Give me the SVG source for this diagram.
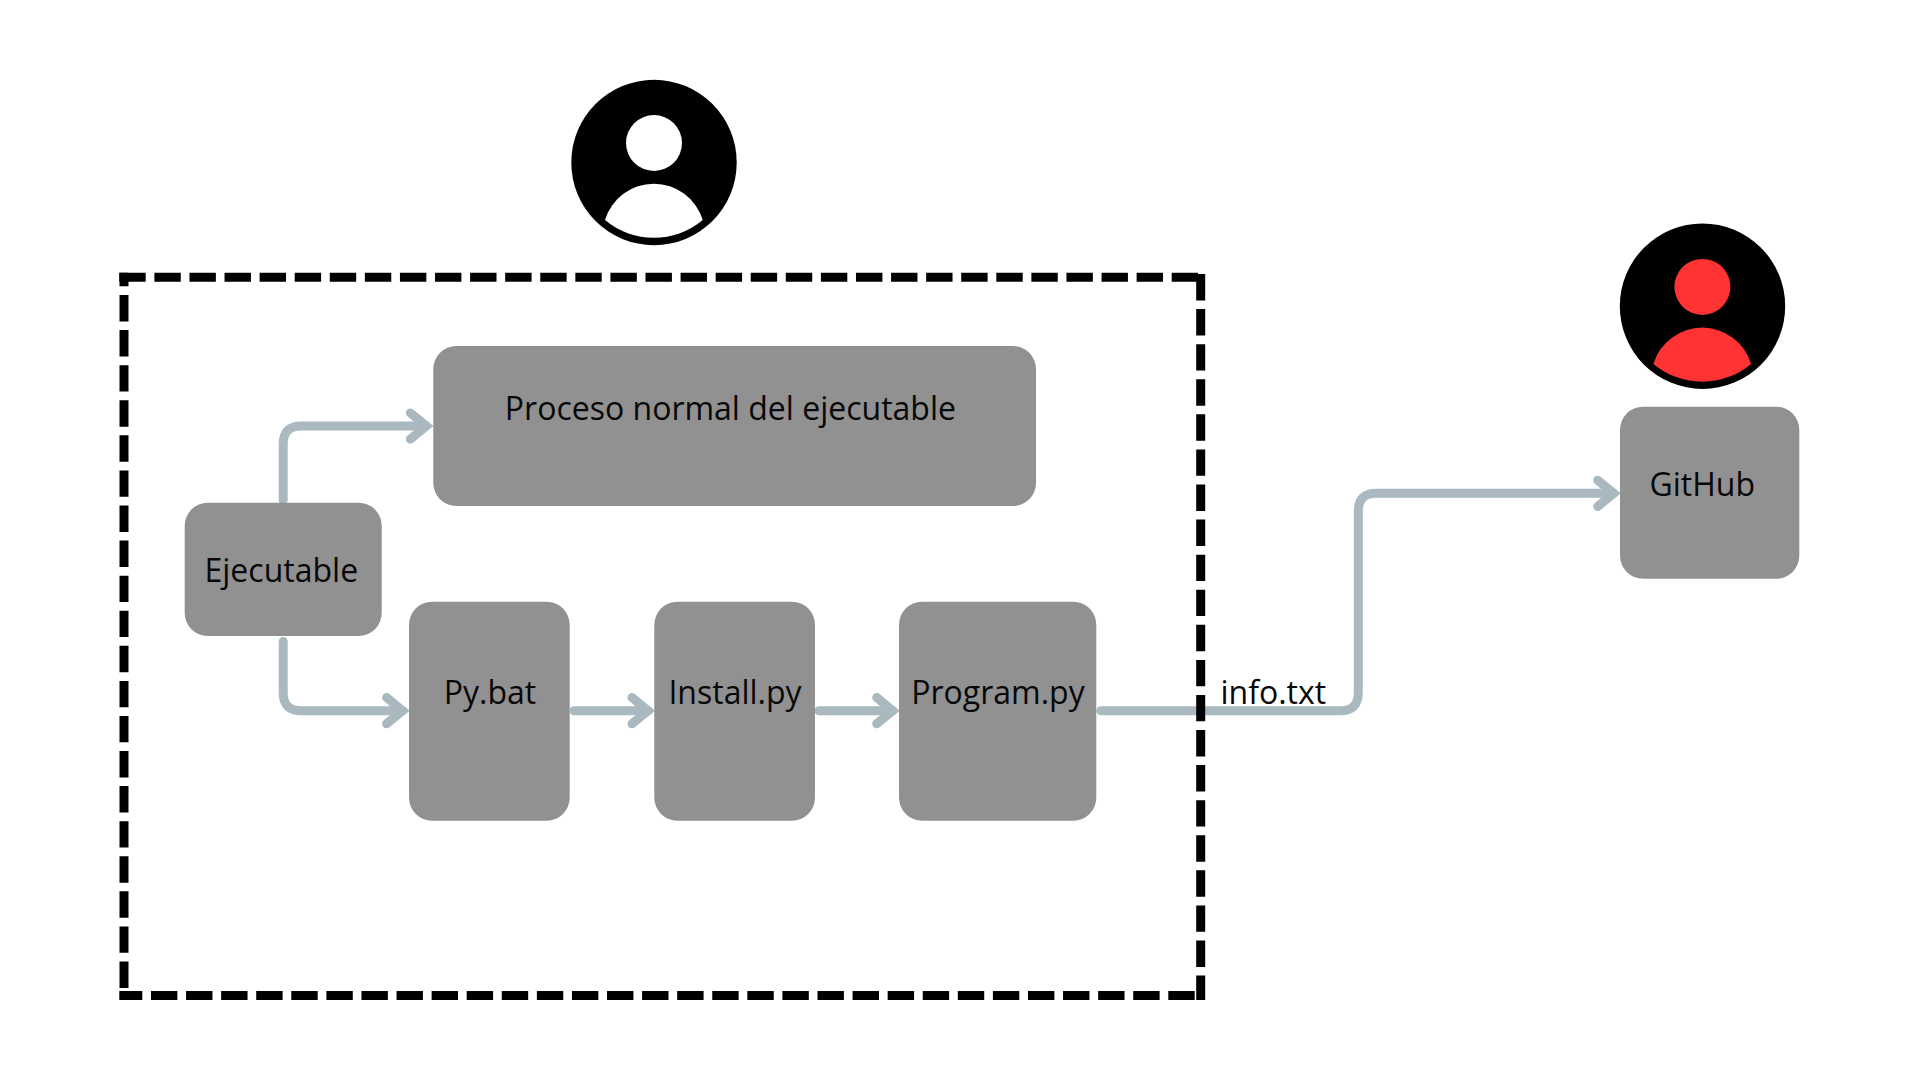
<svg xmlns="http://www.w3.org/2000/svg" width="1920" height="1080" viewBox="0 0 1920 1080">
<style>
.box{fill:#919191}
.t{font-family:"Open Sans","Noto Sans",sans-serif;font-size:32px;fill:#080808;text-anchor:middle}
.c{fill:none;stroke:#aab8c0;stroke-width:9;stroke-linecap:round;stroke-linejoin:round}
.d{fill:none;stroke:#000;stroke-width:9;stroke-dasharray:26.4 8.68}
</style>
<defs>
<marker id="arrow" markerUnits="userSpaceOnUse" markerWidth="40" markerHeight="40" refX="26" refY="20" orient="auto" overflow="visible">
<path d="M10 6.9 L26 20 L10 33.1" fill="none" stroke="#aab8c0" stroke-width="9" stroke-linecap="round" stroke-linejoin="miter" stroke-miterlimit="4"/>
</marker>
<g id="avatar-head"><circle cx="654" cy="143" r="28"/><path d="M605 220A51 51 0 0 1 702.7 220A76 76 0 0 1 605 220Z"/></g>
</defs>
<rect width="1920" height="1080" fill="#fff"/>
<g id="connectors">
<path class="c" marker-end="url(#arrow)" d="M283.2 500V444Q283.2 426 301.2 426H426.4"/>
<path class="c" marker-end="url(#arrow)" d="M283.2 641.5V692.7Q283.2 710.7 301.2 710.7H402.6"/>
<path class="c" marker-end="url(#arrow)" d="M574 710.7H648"/>
<path class="c" marker-end="url(#arrow)" d="M819 710.7H892.7"/>
<path class="c" marker-end="url(#arrow)" d="M1100.8 710.7H1340.3Q1358.3 710.7 1358.3 692.7V511.3Q1358.3 493.3 1376.3 493.3H1613.7"/>
</g>
<g id="boundary">
<path class="d" d="M119.3 277.3H1198"/>
<path class="d" stroke-dashoffset="12.78" d="M124 272.7V988"/>
<path class="d" d="M1200.7 274V1000"/>
<path class="d" stroke-dashoffset="3.4" d="M119.3 995.5H1195"/>
</g>
<g id="user-black">
<circle cx="654" cy="162.5" r="82.7" fill="#000"/>
<use href="#avatar-head" fill="#fff"/>
</g>
<g id="user-red">
<circle cx="1702.5" cy="306.2" r="82.7" fill="#000"/>
<use href="#avatar-head" fill="#ff3333" transform="translate(1048.4 143.9)"/>
</g>
<g id="proceso"><rect class="box" x="433.3" y="346" width="602.7" height="160" rx="23"/><text class="t" x="730.4" y="420.4">Proceso normal del ejecutable</text></g>
<g id="ejecutable"><rect class="box" x="184.7" y="502.7" width="197" height="133.3" rx="23"/><text class="t" x="281.3" y="582">Ejecutable</text></g>
<g id="pybat"><rect class="box" x="409" y="601.7" width="160.7" height="219" rx="23"/><text class="t" x="490" y="704.4">Py.bat</text></g>
<g id="install"><rect class="box" x="654.3" y="601.7" width="160.7" height="219" rx="23"/><text class="t" x="735" y="704.4">Install.py</text></g>
<g id="program"><rect class="box" x="899" y="601.7" width="197.3" height="219" rx="23"/><text class="t" x="998" y="704.4">Program.py</text></g>
<g id="github"><rect class="box" x="1620" y="406.7" width="179.3" height="172" rx="23"/><text class="t" x="1702.3" y="496">GitHub</text></g>
<g id="label-info"><text class="t" x="1273.3" y="704">info.txt</text></g>
</svg>
